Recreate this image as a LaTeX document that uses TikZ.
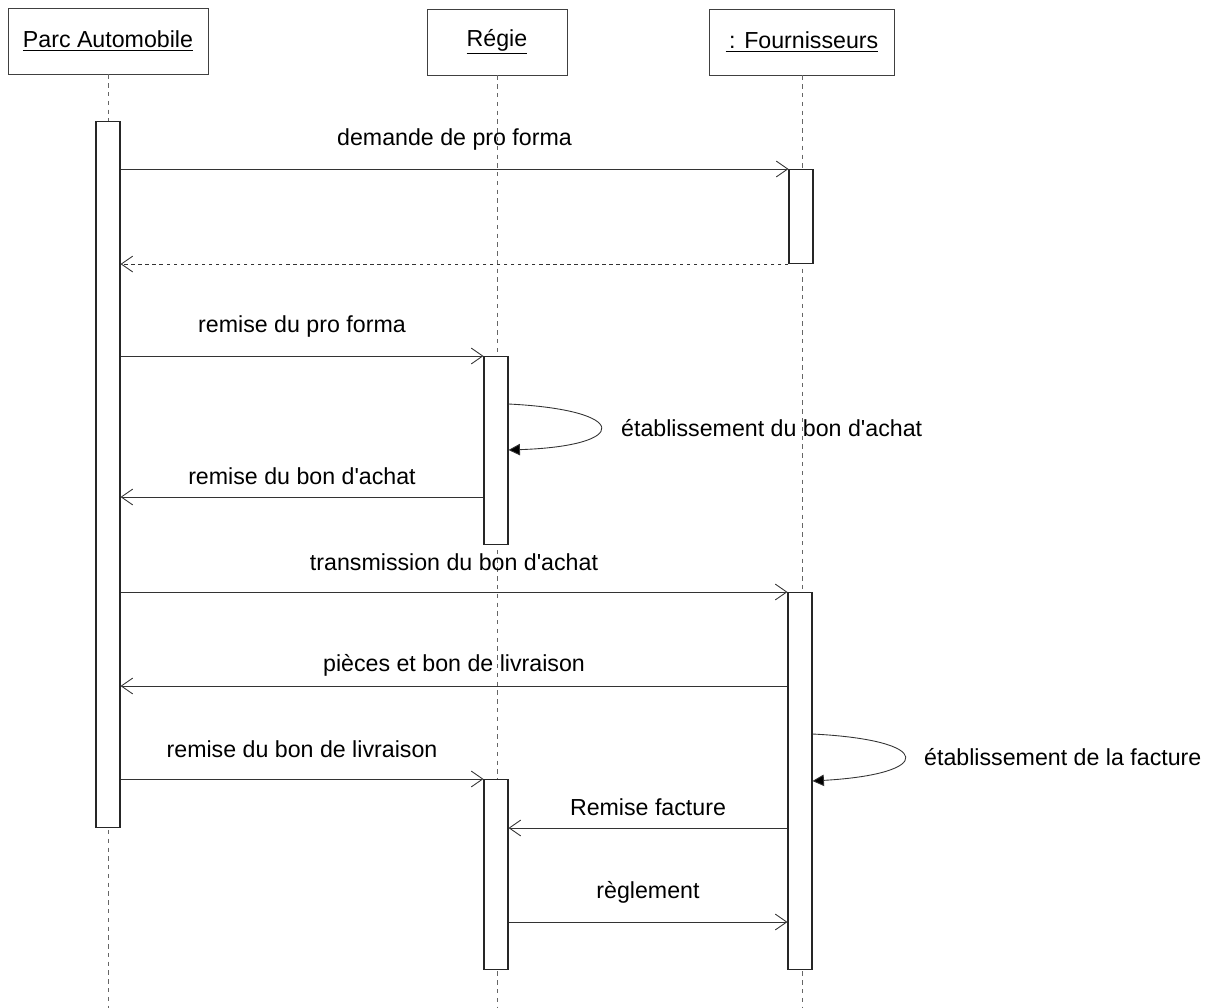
\documentclass[tikz,border=0pt]{standalone}
\usepackage{fontspec}
\setmainfont[Ligatures=TeXOff]{Liberation Sans}
\usetikzlibrary{arrows.meta}

\tikzset{
  obj/.style={draw=black!75, line width=0.5pt, fill=white, inner sep=0pt, minimum height=1.32cm},
  bar/.style={draw=black!85, line width=0.6pt, fill=white, inner sep=0pt, minimum width=0.48cm, anchor=north},
  life/.style={draw=black!60, line width=0.4pt, dash pattern=on 2.5pt off 2.5pt},
  msg/.style={draw=black!80, line width=0.5pt, -{Straight Barb[length=6.5pt,width=9pt]}},
  ret/.style={msg, dash pattern=on 2pt off 2pt},
  self/.style={draw=black!80, line width=0.5pt, -{Triangle[length=6.5pt,width=6.5pt,fill=black]}},
  lbl/.style={midway, yshift=0.6cm},
  lbll/.style={midway, yshift=0.42cm}
}

\begin{document}
\begin{tikzpicture}[x=0.02cm,y=-0.02cm,font=\fontsize{13.2}{16}\selectfont]
\useasboundingbox (0,0) rectangle (1211,1008);
% objets
\node[obj, minimum width=4cm] (parc) at (108,41) {\underline{Parc Automobile}};
\node[obj, minimum width=2.8cm] (regie) at (497,42) {\underline{Régie}};
\node[obj, minimum width=3.7cm] (four) at (802,42) {\underline{\kern2pt: Fournisseurs}};
% lignes de vie
\draw[life] (parc.south) -- (parc.south |- 0,1008);
\draw[life] (regie.south) -- (regie.south |- 0,1008);
\draw[life] (four.south) -- (four.south |- 0,1008);
% activations
\node[bar, minimum height=14.12cm] (pa) at (108,121) {};
\node[bar, minimum height=1.88cm] (fb1) at (801,169) {};
\node[bar, minimum height=3.76cm] (rb1) at (496,356) {};
\node[bar, minimum height=7.54cm] (fb2) at (800,592) {};
\node[bar, minimum height=3.8cm] (rb2) at (496,779) {};
% messages
\draw[msg] (pa.east |- fb1.north west) -- (fb1.north west) node[lbl] {demande de pro forma};
\draw[ret] (fb1.south west) -- (pa.east |- fb1.south west);
\draw[msg] (pa.east |- rb1.north west) -- (rb1.north west) node[lbl] {remise du pro forma};
\draw[self] (rb1.east |- 0,404) .. controls (631,410) and (631,446) .. (rb1.east |- 0,450);
\node[anchor=west] (l4) at (615,428) {établissement du bon d'achat};
\draw[msg] (rb1.west |- 0,497) -- (pa.east |- 0,497) node[lbll] {remise du bon d'achat};
\draw[msg] (pa.east |- fb2.north west) -- (fb2.north west) node[lbl] {transmission du bon d'achat};
\draw[msg] (fb2.west |- 0,686) -- (pa.east |- 0,686) node[lbll] {pièces et bon de livraison};
\draw[self] (fb2.east |- 0,734) .. controls (935,740) and (935,774) .. (fb2.east |- 0,781);
\node[anchor=west] (l8) at (918,757) {établissement de la facture};
\draw[msg] (pa.east |- rb2.north west) -- (rb2.north west) node[lbl] {remise du bon de livraison};
\draw[msg] (fb2.west |- 0,828) -- (rb2.east |- 0,828) node[lbll] {Remise facture};
\draw[msg] (rb2.east |- 0,922) -- (fb2.west |- 0,922) node[lbl] {règlement};
\end{tikzpicture}
\end{document}
